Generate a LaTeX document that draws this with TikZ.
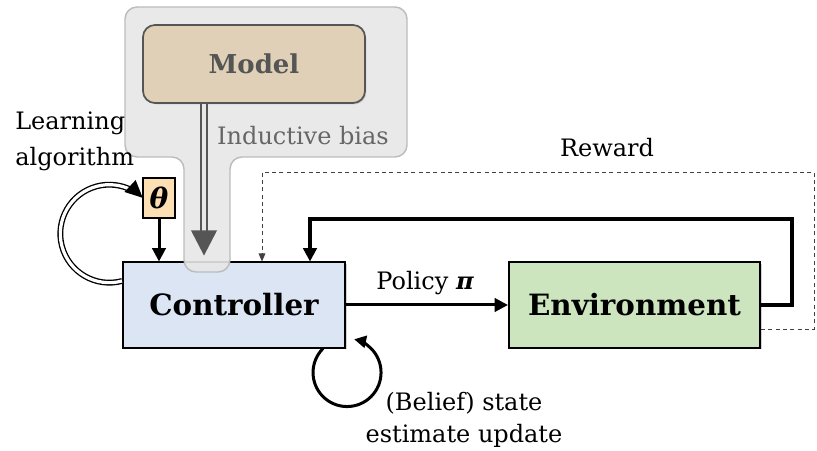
\documentclass[tikz,border=0pt]{standalone}
\usepackage{amsmath, amssymb}
\usepackage{fontspec}
\setmainfont{DejaVu Serif}
\usetikzlibrary{arrows.meta, calc, shadows}

\definecolor{ctrlblue}{RGB}{219,229,244}
\definecolor{envgreen}{RGB}{205,229,190}
\definecolor{modeltan}{RGB}{223,208,183}
\definecolor{thetaorange}{RGB}{252,224,180}
\definecolor{biasgray}{RGB}{231,231,231}
\definecolor{biasline}{RGB}{188,188,188}
\definecolor{darkgray}{RGB}{85,85,85}

\begin{document}
\begin{tikzpicture}[x=0.75pt, y=0.75pt, >=Triangle,
    block/.style={draw=black, line width=1.5pt, minimum height=63.75pt,
        font=\bfseries\fontsize{22}{26}\selectfont,
        drop shadow={shadow xshift=1.2pt, shadow yshift=-1.2pt, opacity=0.35}},
    lbl/.style={font=\fontsize{18}{24}\selectfont, inner sep=0pt},
    arr/.style={->, line width=2.25pt, >={Triangle[length=10pt, width=10pt]}},
    dbl/.style={double, line width=1pt, double distance=2.4pt}]
    \useasboundingbox (0,0) rectangle (817,450);

    \node (ctrl) at (234,145)  [block, fill=ctrlblue, minimum width=166.5pt] {Controller};
    \node (env)  at (634.5,145) [block, fill=envgreen, minimum width=188.25pt] {Environment};

    % inductive bias backdrop
    \draw[fill=biasgray, draw=biasline, line width=1.1pt, fill opacity=0.9, rounded corners=9pt]
        (184,178) -- (184,293) -- (125,293) -- (125,443) -- (407,443)
        -- (407,293) -- (230,293) -- (230,178) -- cycle;
    \node (model) at (254,386) [draw=darkgray, line width=1.3pt, fill=modeltan, rounded corners=9pt,
        minimum width=166.5pt, minimum height=58.5pt, text=darkgray,
        font=\bfseries\fontsize{19.5}{24}\selectfont,
        drop shadow={shadow xshift=1pt, shadow yshift=-1pt, opacity=0.3}] {Model};
    \node (bias) at (303,314) [lbl, text=black!60] {Inductive bias};

    \node (theta) at (159,252) [draw=black, line width=1.2pt, fill=thetaorange, inner sep=0pt,
        minimum width=24pt, minimum height=30pt, font=\bfseries\itshape\fontsize{21}{24}\selectfont] {θ};
    \node (learn) at (15,309) [lbl, anchor=west, align=left] {Learning\\[3pt]algorithm};
    \node (reward) at (607,302) [lbl] {Reward};
    \node (policy) at (425,167) [lbl] {Policy {\bfseries\itshape π}};
    \node (belief) at (464,30) [lbl, align=center] {(Belief) state\\estimate update};

    % Draw the connectors
    \draw[darkgray, double=biasgray, line width=1.2pt, double distance=3pt]
        ($(model.south)+(-50,0)$) -- ($(ctrl.north)+(-30,26)$);
    \fill[darkgray] ($(ctrl.north)+(-30,6)$) -- ++(-13,25) -- ++(26,0) -- cycle;
    \draw[arr] (theta.south) -- (theta.south |- ctrl.north);
    \draw[dbl] ($(ctrl.west)+(0,24)$) arc[start angle=-75, end angle=-298, radius=49] coordinate (lp);
    \draw[-{Triangle[length=13pt, width=12pt]}, line width=1pt] (lp) arc[start angle=-298, end angle=-313, radius=49];
    \draw[arr] (ctrl.east) -- (env.west);
    \draw[arr, line width=2.6pt] (env.east) -| (792,231) -| ($(ctrl.north)+(76,0)$);
    \draw[->, line width=0.7pt, black!75, dash pattern=on 3pt off 2.5pt, >={Triangle[length=6pt, width=5pt]}]
        ($(env.east)+(0,-24)$) -| (814,278) -| ($(ctrl.north)+(28,0)$);
    \draw[->, line width=2.25pt, >={Triangle[length=9pt, width=9pt]}]
        ($(ctrl.south east)+(-23,0)$) arc[start angle=135, end angle=438, radius=34];
\end{tikzpicture}
\end{document}
